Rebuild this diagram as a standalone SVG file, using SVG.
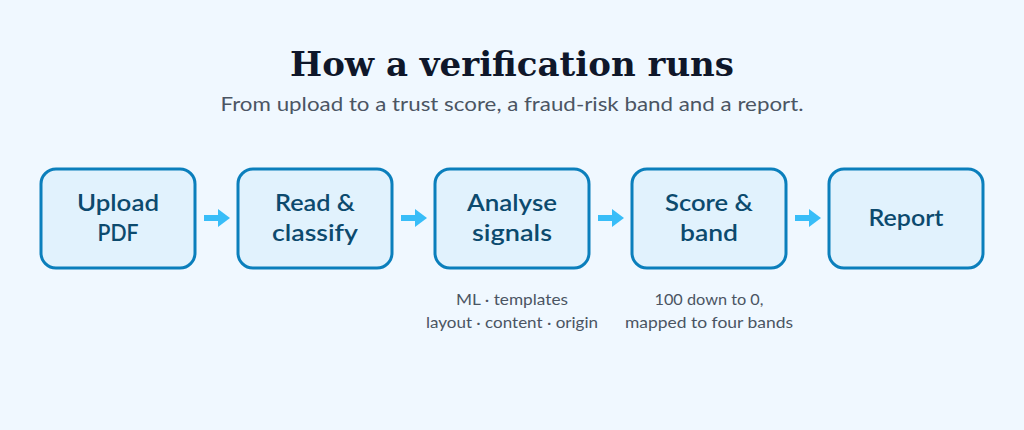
<svg xmlns="http://www.w3.org/2000/svg" width="1024" height="430" viewBox="0 0 1024 430">
<defs>
<style>
.node rect{fill:#e1f2fd;stroke:#0b7fbc;stroke-width:3}
.lbl{font-family:Lato,"Open Sans","Noto Sans",sans-serif;font-size:23px;font-weight:600;fill:#0c4a6e;text-anchor:middle}
.note{font-family:Lato,"Open Sans","Noto Sans",sans-serif;font-size:15px;fill:#4b5563;text-anchor:middle}
.conn line{stroke:#38bdf8;stroke-width:6}
.conn path{fill:#38bdf8}
</style>
</defs>
<rect width="1024" height="430" fill="#f0f8ff"/>
<text x="512" y="76" text-anchor="middle" font-family="'DejaVu Serif','Liberation Serif',serif" font-weight="bold" font-size="34" fill="#0f172a" textLength="444" lengthAdjust="spacingAndGlyphs">How a verification runs</text>
<text x="512" y="111" text-anchor="middle" font-family="Lato,'Open Sans',sans-serif" font-size="19" fill="#4b5563" textLength="583" lengthAdjust="spacingAndGlyphs">From upload to a trust score, a fraud-risk band and a report.</text>
<g id="connectors" class="conn">
<line x1="204" y1="218" x2="219" y2="218"/><path d="M218 209 L230 218 L218 227 Z"/>
<line x1="401" y1="218" x2="416" y2="218"/><path d="M415 209 L427 218 L415 227 Z"/>
<line x1="598" y1="218" x2="613" y2="218"/><path d="M612 209 L624 218 L612 227 Z"/>
<line x1="795" y1="218" x2="810" y2="218"/><path d="M809 209 L821 218 L809 227 Z"/>
</g>
<g id="upload" class="node"><rect x="41" y="169" width="154" height="99" rx="15"/><text class="lbl" x="118" y="211" textLength="82" lengthAdjust="spacingAndGlyphs">Upload</text><text class="lbl" x="118" y="241" textLength="41" lengthAdjust="spacingAndGlyphs">PDF</text></g>
<g id="read" class="node"><rect x="238" y="169" width="154" height="99" rx="15"/><text class="lbl" x="315" y="211" textLength="80" lengthAdjust="spacingAndGlyphs">Read &amp;</text><text class="lbl" x="315" y="241" textLength="86" lengthAdjust="spacingAndGlyphs">classify</text></g>
<g id="analyse" class="node"><rect x="435" y="169" width="154" height="99" rx="15"/><text class="lbl" x="512" y="211" textLength="90" lengthAdjust="spacingAndGlyphs">Analyse</text><text class="lbl" x="512" y="241" textLength="80" lengthAdjust="spacingAndGlyphs">signals</text></g>
<g id="score" class="node"><rect x="632" y="169" width="154" height="99" rx="15"/><text class="lbl" x="709" y="211" textLength="88" lengthAdjust="spacingAndGlyphs">Score &amp;</text><text class="lbl" x="709" y="241" textLength="58" lengthAdjust="spacingAndGlyphs">band</text></g>
<g id="report" class="node"><rect x="829" y="169" width="154" height="99" rx="15"/><text class="lbl" x="906" y="226" textLength="75" lengthAdjust="spacingAndGlyphs">Report</text></g>
<g id="notes">
<text class="note" x="512" y="305" textLength="112" lengthAdjust="spacingAndGlyphs">ML · templates</text>
<text class="note" x="512" y="328" textLength="172" lengthAdjust="spacingAndGlyphs">layout · content · origin</text>
<text class="note" x="709" y="305" textLength="109" lengthAdjust="spacingAndGlyphs">100 down to 0,</text>
<text class="note" x="709" y="328" textLength="168" lengthAdjust="spacingAndGlyphs">mapped to four bands</text>
</g>
</svg>
